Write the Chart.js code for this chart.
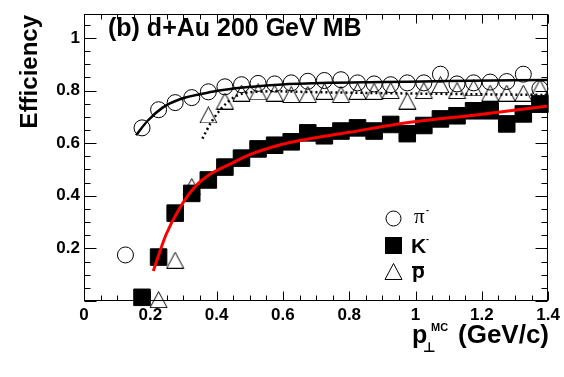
<!DOCTYPE html>
<html>
<head>
<meta charset="utf-8">
<script src="https://cdn.jsdelivr.net/npm/chart.js@4.4.0/dist/chart.umd.min.js"></script>
<style>
  html, body { margin: 0; padding: 0; background: #fff; }
  #wrap { width: 564px; height: 377px; }
</style>
</head>
<body>
<div id="wrap"><canvas id="chart"></canvas></div>
<script>
// pT bin centres (GeV/c)
const ptBins = [0.125, 0.175, 0.225, 0.275, 0.325, 0.375, 0.425, 0.475, 0.525, 0.575,
                0.625, 0.675, 0.725, 0.775, 0.825, 0.875, 0.925, 0.975, 1.025, 1.075,
                1.125, 1.175, 1.225, 1.275, 1.325, 1.375];

// efficiencies (null = no point)
const effPion = [0.175, 0.658, 0.727, 0.754, 0.773, 0.795, 0.814, 0.822, 0.827, 0.825,
                 0.829, 0.835, 0.838, 0.841, 0.829, 0.825, 0.822, 0.829, 0.829, 0.862,
                 0.825, 0.829, 0.832, 0.834, 0.862, 0.807];
const effKaon = [null, 0.014, 0.167, 0.334, 0.409, 0.46, 0.509, 0.543, 0.578, 0.592,
                 0.605, 0.639, 0.628, 0.646, 0.658, 0.646, 0.671, 0.636, 0.667, 0.692,
                 0.704, 0.723, 0.723, 0.673, 0.711, 0.748];
const effPbar = [null, null, 0.005, 0.155, 0.435, 0.707, 0.76, 0.79, 0.795, 0.79,
                 0.785, 0.785, 0.797, 0.785, 0.797, 0.797, 0.8, 0.76, 0.8, 0.822,
                 0.8, 0.81, 0.79, 0.79, 0.79, 0.81];

// fit curves, sampled by eye along the drawn lines
const fitPionX = [0.157, 0.192, 0.237, 0.287, 0.387, 0.487, 0.587, 0.737, 0.9, 1.1, 1.4];
const fitPionY = [0.63, 0.685, 0.735, 0.766, 0.795, 0.812, 0.822, 0.829, 0.832, 0.836, 0.84];
const fitKaonX = [0.209, 0.247, 0.287, 0.337, 0.387, 0.447, 0.5, 0.587, 0.65, 0.8, 0.948, 1.2, 1.4];
const fitKaonY = [0.114, 0.251, 0.35, 0.437, 0.487, 0.524, 0.556, 0.592, 0.61, 0.641, 0.673, 0.71, 0.741];
const fitPbarX = [0.357, 0.387, 0.437, 0.487, 0.587, 0.65, 0.9, 1.1, 1.4];
const fitPbarY = [0.617, 0.686, 0.76, 0.791, 0.797, 0.795, 0.79, 0.787, 0.783];

// axis ticks
const xTickValues = [0, 0.2, 0.4, 0.6, 0.8, 1, 1.2, 1.4];
const yTickValues = [0.2, 0.4, 0.6, 0.8, 1];

const FONT = '"Liberation Sans", Arial, Helvetica, sans-serif';

function toPoints(xs, ys) {
    const out = [];
    xs.forEach((x, i) => {
        if (ys[i] != null) out.push({ x: x, y: ys[i] });
    });
    return out;
}

// open triangle, centred on its bounding box like ROOT markers
function makeTriangle() {
    const c = document.createElement('canvas');
    c.width = 19;
    c.height = 17;
    const g = c.getContext('2d');
    g.strokeStyle = '#000';
    g.lineWidth = 1;
    g.beginPath();
    g.moveTo(1, 16.5);
    g.lineTo(18, 16.5);
    g.lineTo(9.5, 0.5);
    g.closePath();
    g.stroke();
    return c;
}
const triangleImg = makeTriangle();

// frame, inward ticks, title, legend and axis titles
const decorations = {
    id: 'decorations',
    afterDraw(chart) {
        const { ctx, chartArea: a, scales } = chart;
        const xs = scales.x, ys = scales.y;
        ctx.save();
        ctx.strokeStyle = '#000';
        ctx.fillStyle = '#000';
        ctx.lineWidth = 1;

        const L = Math.round(a.left) + 0.5, R = Math.round(a.right) - 0.5;
        const T = Math.round(a.top) + 0.5, B = Math.round(a.bottom) - 0.5;
        ctx.strokeRect(L, T, R - L, B - T);

        ctx.beginPath();
        for (let i = 0; i <= 28; i++) {
            const px = Math.round(xs.getPixelForValue(i * 0.05)) + 0.5;
            const len = i % 4 === 0 ? 9 : 5;
            ctx.moveTo(px, B); ctx.lineTo(px, B - len);
            ctx.moveTo(px, T); ctx.lineTo(px, T + len);
        }
        for (let i = 0; i <= 21; i++) {
            const py = Math.round(ys.getPixelForValue(i * 0.05)) + 0.5;
            const len = i % 4 === 0 ? 12 : 6;
            ctx.moveTo(L, py); ctx.lineTo(L + len, py);
            ctx.moveTo(R, py); ctx.lineTo(R - len, py);
        }
        ctx.stroke();

        // title
        ctx.font = 'bold 25px ' + FONT;
        ctx.textAlign = 'left';
        ctx.textBaseline = 'alphabetic';
        ctx.fillText('(b) d+Au 200 GeV MB', 108, 36);

        // y title
        ctx.save();
        ctx.translate(37, 15);
        ctx.rotate(-Math.PI / 2);
        ctx.textAlign = 'right';
        ctx.font = 'bold 24px ' + FONT;
        ctx.fillText('Efficiency', 0, 0);
        ctx.restore();

        // x title
        ctx.textAlign = 'left';
        ctx.font = 'bold 25px ' + FONT;
        ctx.fillText('p', 412, 343);
        ctx.font = 'bold 14px "DejaVu Sans", sans-serif';
        ctx.fillText('\u22A5', 423, 352);
        ctx.font = 'bold 11px ' + FONT;
        ctx.fillText('MC', 431, 331);
        ctx.font = 'bold 26px ' + FONT;
        ctx.fillText('(GeV/c)', 458, 343);

        // legend
        ctx.beginPath();
        ctx.arc(393.5, 218.5, 7.5, 0, Math.PI * 2);
        ctx.stroke();
        ctx.fillRect(385, 237, 17, 17);
        ctx.drawImage(triangleImg, 384, 263);

        ctx.font = '21px "Liberation Serif", "Times New Roman", serif';
        ctx.fillText('\u03C0', 414, 223);
        ctx.font = 'bold 21px ' + FONT;
        ctx.fillText('K', 411, 253);
        ctx.fillText('p', 412, 278);
        ctx.fillRect(412, 266, 12, 2);
        ctx.font = 'bold 9px ' + FONT;
        ctx.fillText('-', 426, 213);
        ctx.fillText('-', 426, 242);
        ctx.restore();
    }
};

const pointDefaults = {
    type: 'scatter',
    showLine: false,
    clip: false,
    borderColor: '#000',
    borderWidth: 1,
    order: 1
};

const fitDefaults = {
    type: 'line',
    pointRadius: 0,
    fill: false,
    cubicInterpolationMode: 'monotone',
    order: 0
};

const datasets = [
    Object.assign({}, fitDefaults, {
        label: 'pion fit',
        data: toPoints(fitPionX, fitPionY),
        borderColor: '#000',
        borderWidth: 2.5
    }),
    Object.assign({}, fitDefaults, {
        label: 'kaon fit',
        data: toPoints(fitKaonX, fitKaonY),
        borderColor: '#ff0000',
        borderWidth: 3
    }),
    Object.assign({}, fitDefaults, {
        label: 'pbar fit',
        data: toPoints(fitPbarX, fitPbarY),
        borderColor: '#000',
        borderWidth: 2.5,
        borderDash: [2, 3]
    }),
    Object.assign({}, pointDefaults, {
        label: 'pi-',
        data: toPoints(ptBins, effPion),
        pointStyle: 'circle',
        pointRadius: 8,
        backgroundColor: 'rgba(0,0,0,0)'
    }),
    Object.assign({}, pointDefaults, {
        label: 'K-',
        data: toPoints(ptBins, effKaon),
        pointStyle: 'rect',
        pointRadius: 11.7,
        backgroundColor: '#000'
    }),
    Object.assign({}, pointDefaults, {
        label: 'pbar',
        data: toPoints(ptBins, effPbar),
        pointStyle: triangleImg
    })
];

const tickLabel = v => String(Math.round(v * 10) / 10);

new Chart(document.getElementById('chart'), {
    type: 'scatter',
    data: { datasets: datasets },
    options: {
        responsive: true,
        maintainAspectRatio: false,
        animation: false,
        layout: { padding: { top: 8, right: 13, left: 0, bottom: 0 } },
        plugins: {
            legend: { display: false },
            tooltip: { enabled: false }
        },
        scales: {
            x: {
                type: 'linear',
                min: 0,
                max: 1.4,
                afterBuildTicks: s => { s.ticks = xTickValues.map(v => ({ value: v })); },
                afterFit: s => { s.height = 76; },
                grid: { display: false, drawTicks: false },
                border: { display: false },
                ticks: {
                    color: '#000',
                    padding: 4,
                    maxRotation: 0,
                    autoSkip: false,
                    font: { family: FONT, size: 17, weight: 'bold' },
                    callback: tickLabel
                }
            },
            y: {
                type: 'linear',
                min: 0,
                max: 1.09,
                afterBuildTicks: s => { s.ticks = yTickValues.map(v => ({ value: v })); },
                afterFit: s => { s.width = 84; },
                grid: { display: false, drawTicks: false },
                border: { display: false },
                ticks: {
                    color: '#000',
                    padding: 4,
                    autoSkip: false,
                    font: { family: FONT, size: 17, weight: 'bold' },
                    callback: tickLabel
                }
            }
        }
    },
    plugins: [decorations]
});
</script>
</body>
</html>
